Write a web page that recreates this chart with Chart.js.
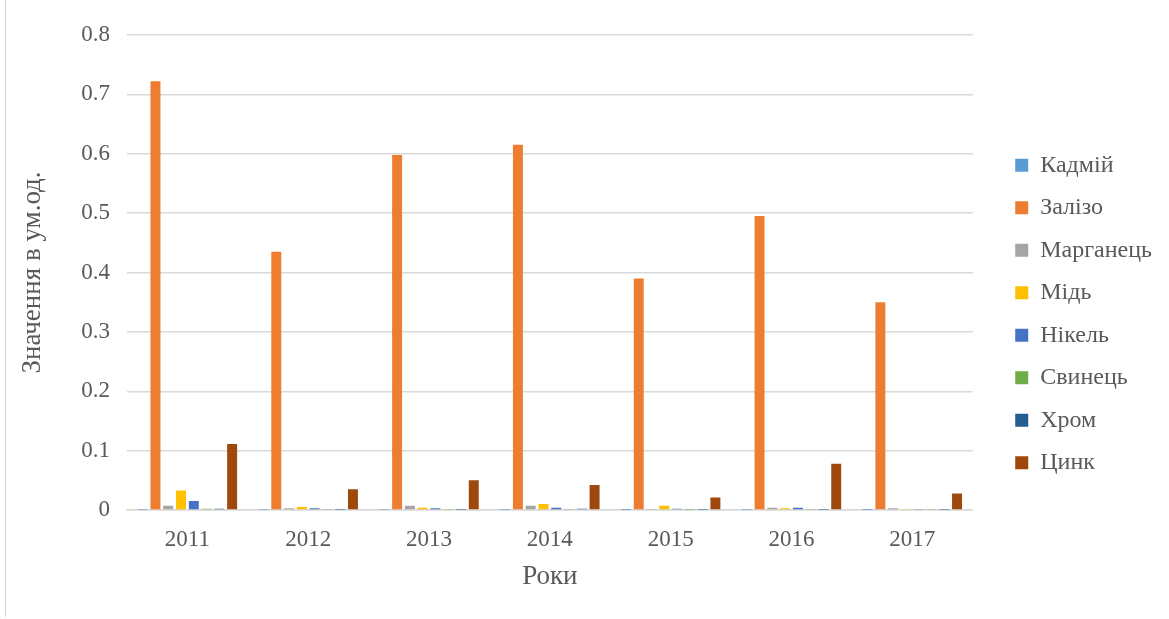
<!DOCTYPE html>
<html>
<head>
<meta charset="utf-8">
<script src="https://cdn.jsdelivr.net/npm/chart.js@4/dist/chart.umd.min.js"></script>
<style>
  html, body { margin: 0; padding: 0; background: #fff; }
  #wrap { position: relative; width: 1169px; height: 619px; }
  #wrap:before { content: ""; position: absolute; left: 5px; top: 0; width: 1px; height: 617px; background: #d9d9d9; }
  canvas { display: block; }
</style>
</head>
<body>
<div id="wrap"><canvas id="c" width="1169" height="619"></canvas></div>
<script>
// Роки
const years = ["2011", "2012", "2013", "2014", "2015", "2016", "2017"];

// Значення по металах (ум.од.)
const kadmii    = [0.0005, 0.0003, 0.0003, 0.0003, 0.0002, 0.0003, 0.0002];
const zalizo    = [0.722, 0.435, 0.598, 0.615, 0.390, 0.495, 0.350];
const marganets = [0.007, 0.003, 0.007, 0.007, 0.001, 0.004, 0.003];
const mid       = [0.033, 0.005, 0.004, 0.010, 0.007, 0.003, 0.001];
const nikel     = [0.015, 0.003, 0.003, 0.004, 0.002, 0.004, 0.001];
const svynets   = [0.002, 0.001, 0.001, 0.001, 0.0005, 0.001, 0.001];
const khrom     = [0.002, 0.0003, 0.0003, 0.002, 0.0003, 0.0003, 0.0003];
const tsynk     = [0.111, 0.035, 0.050, 0.042, 0.021, 0.078, 0.028];

const yTicks = [0, 0.1, 0.2, 0.3, 0.4, 0.5, 0.6, 0.7, 0.8];

const series = [
  { label: "Кадмій",    values: kadmii,    color: "#5b9bd5" },
  { label: "Залізо",    values: zalizo,    color: "#ed7d31" },
  { label: "Марганець", values: marganets, color: "#a5a5a5" },
  { label: "Мідь",      values: mid,       color: "#ffc000" },
  { label: "Нікель",    values: nikel,     color: "#4472c4" },
  { label: "Свинець",   values: svynets,   color: "#70ad47" },
  { label: "Хром",      values: khrom,     color: "#255e91" },
  { label: "Цинк",      values: tsynk,     color: "#9e480e" }
];

const font = "'Liberation Serif', 'Times New Roman', serif";
const textColor = "#595959";

new Chart(document.getElementById("c"), {
  type: "bar",
  data: {
    labels: years,
    datasets: series.map(s => ({
      label: s.label,
      data: s.values,
      backgroundColor: s.color,
      borderWidth: 0,
      categoryPercentage: 0.846,
      barPercentage: 0.78
    }))
  },
  options: {
    responsive: false,
    animation: false,
    layout: { padding: { left: 13, right: 7, top: 35, bottom: 26 } },
    plugins: {
      tooltip: { enabled: false },
      legend: {
        position: "right",
        align: "center",
        labels: {
          color: textColor,
          font: { family: font, size: 24 },
          boxWidth: 13,
          boxHeight: 13,
          padding: 18.5
        }
      }
    },
    scales: {
      x: {
        grid: { display: false, drawTicks: false },
        border: { color: "#d9d9d9", width: 1.5 },
        afterFit: axis => { axis.height = 83; },
        ticks: { color: textColor, font: { family: font, size: 23 }, padding: 16 },
        title: { display: true, text: "Роки", color: textColor, font: { family: font, size: 27 }, padding: { top: 0, bottom: 0 } }
      },
      y: {
        min: 0,
        max: 0.8,
        afterBuildTicks: axis => { axis.ticks = yTicks.map(v => ({ value: v })); },
        afterFit: axis => { axis.width = 114; },
        grid: { color: "#d9d9d9", lineWidth: 1.5, drawTicks: false },
        border: { display: false },
        ticks: {
          color: textColor,
          font: { family: font, size: 23 },
          padding: 17,
          callback: v => (v === 0 ? "0" : String(Math.round(v * 10) / 10))
        },
        title: { display: true, text: "Значення в ум.од.", color: textColor, font: { family: font, size: 27 }, padding: { top: 4, bottom: 0 } }
      },
      // порожній відступ між графіком і легендою
      gap: {
        type: "linear",
        position: "right",
        grid: { display: false, drawTicks: false },
        border: { display: false },
        ticks: { display: false },
        afterFit: axis => { axis.width = 24; }
      }
    }
  }
});
</script>
</body>
</html>
